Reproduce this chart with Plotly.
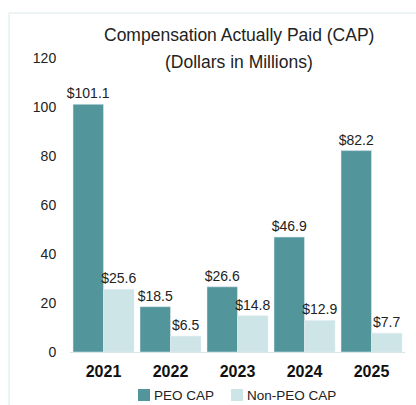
import plotly.graph_objects as go

years = ["2021", "2022", "2023", "2024", "2025"]
peo_cap = [101.1, 18.5, 26.6, 46.9, 82.2]
non_peo_cap = [25.6, 6.5, 14.8, 12.9, 7.7]
y_ticks = [0, 20, 40, 60, 80, 100, 120]
series_names = ["PEO CAP", "Non-PEO CAP"]
series_colors = ["#52959b", "#cde5e7"]

W, H = 416, 405
L, R, T, B = 70, 11, 58, 53
pw, ph = W - L - R, H - T - B

font = "Liberation Sans, Arial, sans-serif"
fig = go.Figure()
for name, vals, col in zip(series_names, [peo_cap, non_peo_cap], series_colors):
    fig.add_trace(go.Bar(x=years, y=vals, name=name, marker_color=col,
                         text=[f"${v:.1f}" for v in vals], textposition="outside",
                         constraintext="none",
                         textfont=dict(size=14, color="#222"), cliponaxis=False))

def px_x(p):
    return (p - L) / pw

def px_y(p):
    return 1 - (p - T) / ph

annotations = [
    dict(text="Compensation Actually Paid (CAP)",
         xref="paper", yref="paper", x=px_x(239), y=px_y(35),
         xanchor="center", yanchor="middle", showarrow=False,
         font=dict(size=17.5, color="#222")),
    dict(text="(Dollars in Millions)",
         xref="paper", yref="paper", x=px_x(239), y=px_y(62),
         xanchor="center", yanchor="middle", showarrow=False,
         font=dict(size=17.5, color="#222")),
]
shapes = [
    dict(type="line", xref="paper", yref="paper", x0=px_x(9), x1=px_x(416),
         y0=px_y(13), y1=px_y(13), line=dict(color="#dbe8ea", width=1)),
    dict(type="line", xref="paper", yref="paper", x0=px_x(9), x1=px_x(9),
         y0=px_y(13), y1=px_y(405), line=dict(color="#dbe8ea", width=1)),
]
# manual legend
leg_x = [138, 231]
for lx, name, col in zip(leg_x, series_names, series_colors):
    shapes.append(dict(type="rect", xref="paper", yref="paper",
                       x0=px_x(lx), x1=px_x(lx + 12), y0=px_y(389), y1=px_y(401),
                       fillcolor=col, line=dict(width=0)))
    annotations.append(dict(text=name, xref="paper", yref="paper",
                            x=px_x(lx + 14), y=px_y(395), xanchor="left", yanchor="middle",
                            showarrow=False, font=dict(size=13.5, color="#222")))

fig.update_layout(
    width=W, height=H,
    margin=dict(l=L, r=R, t=T, b=B, autoexpand=False),
    paper_bgcolor="white", plot_bgcolor="white",
    font=dict(family=font, size=14, color="#222"),
    barmode="group", bargap=0.09, bargroupgap=0,
    showlegend=False,
    xaxis=dict(showline=True, linecolor="#d8e6e8", linewidth=1, ticks="outside",
               ticklen=5, tickcolor="rgba(0,0,0,0)", automargin=False,
               tickfont=dict(size=16, color="#111", family=font, weight="bold")),
    yaxis=dict(range=[0, 120], tickvals=y_ticks, showgrid=False, zeroline=False,
               showline=False, ticks="outside", ticklen=10, tickcolor="rgba(0,0,0,0)",
               automargin=False, tickfont=dict(size=14, color="#222")),
    annotations=annotations,
    shapes=shapes,
)
fig.write_html("out.html")
